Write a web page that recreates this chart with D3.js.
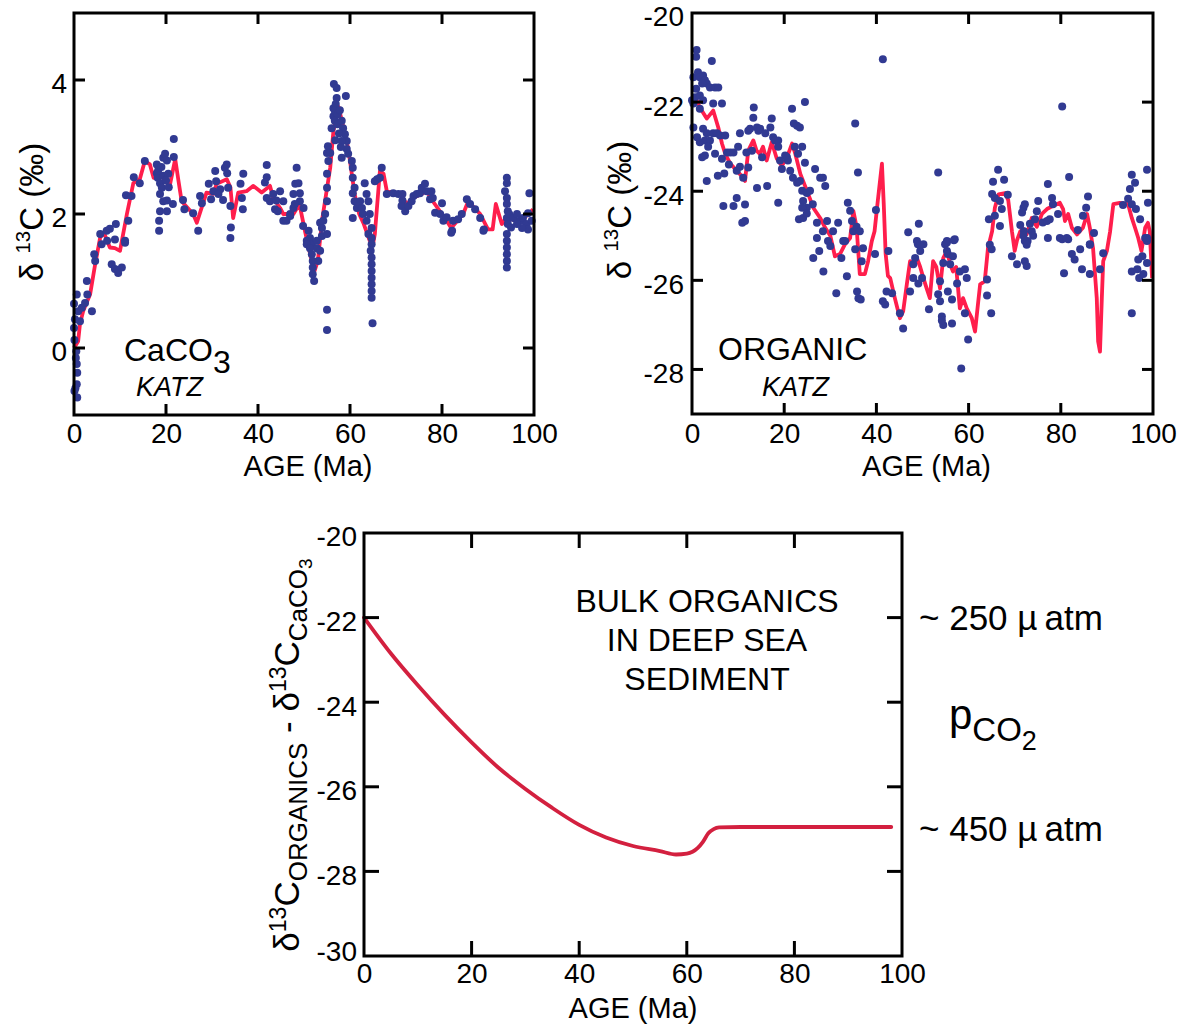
<!DOCTYPE html>
<html>
<head>
<meta charset="utf-8">
<script src="https://cdn.jsdelivr.net/npm/d3@7"></script>
<style>
  body { margin: 0; background: #fff; }
  svg { display: block; }
  text { font-family: "Liberation Sans", Arial, Helvetica, sans-serif; fill: #000; }
</style>
</head>
<body>
<svg id="fig" width="1178" height="1028"></svg>
<script>
// ---------------------------------------------------------------
// Axis ticks
// ---------------------------------------------------------------
const ageTicks = [0, 20, 40, 60, 80, 100];
const ageInnerTicks = [20, 40, 60, 80];
const caco3Ticks = [0, 2, 4];
const organicTicks = [-28, -26, -24, -22, -20];
const organicInnerTicks = [-28, -26, -24, -22];
const offsetTicks = [-30, -28, -26, -24, -22, -20];
const offsetInnerTicks = [-28, -26, -24, -22];

// ---------------------------------------------------------------
// d13C of carbonate (per mil) vs age (Ma): samples and smoothed trend
// ---------------------------------------------------------------
const caco3Samples = [
  [0,0.66],[0.2,0.43],[0,0.3],[0.1,0.12],[0.6,0.8],[0.9,0.55],[0.4,-0.15],[0.6,-0.24],[0.7,-0.37],
  [0.6,-0.54],[0.1,-0.64],[0.7,-0.74],[0.3,-0.6],[0.5,-0.05],[1.7,0.6],[1.3,0.4],[2.4,0.67],[2.9,0.8],
  [3.9,0.55],[2.8,1.0],[4.6,1.3],[4.4,1.4],[6.0,1.55],[5.7,1.7],[8.2,1.25],[8.9,1.18],[9.6,1.12],
  [10.4,1.2],[11.1,1.57],[8.9,1.62],[7.2,1.6],[7.1,1.75],[7.8,1.78],[9.1,1.85],[11.1,1.6],[11.8,1.9],
  [11.3,2.28],[12.5,2.27],[13.0,2.55],[14.3,2.46],[15.4,2.79],
  [18,2.74],[18,2.61],[18.2,2.54],[18.7,2.46],[19.4,2.84],[19.8,2.9],[20.2,2.8],[19.4,2.57],[19.1,2.39],
  [18.7,2.3],[18.5,1.9],[18.5,1.75],[18.7,2.04],[19.4,2.19],[20.2,2.04],[20.2,2.2],[20.5,2.6],[21.7,3.12],
  [21.7,2.85],[21.5,2.15],[20,2.5],[18.3,2.65],[19,2.7],[20.6,2.4],
  [23.7,2.21],[24,2.07],[25.9,2.01],[27,1.75],[27.4,2.27],[27.8,2.16],[29.3,2.45],[29.8,2.22],[30.3,2.34],
  [30.7,2.64],[30.9,2.49],[31.8,2.37],[31.4,2.3],[32.4,2.21],[32.8,2.69],[33.2,2.74],[33.3,2.61],[33.5,2.39],
  [34,2.12],[34.1,1.8],[34,1.64],[36.2,2.45],[36.8,2.6],[36.5,2.24],[36.7,2.07],[41.9,2.73],[41.9,2.55],
  [41.5,2.47],[41.9,2.24],[42.6,2.19],[43.3,2.3],[44,2.2],[43.7,2.07],[44.3,2.04],[44.8,2.34],[45.5,2.19],
  [45.5,1.9],[46.2,1.9],[47,1.97],[47.7,2.09],[48.1,2.45],[48.4,2.69],[48.8,2.46],[49.1,2.31],[49.1,2.19],
  [49.9,2.09],[48,2.15],[47,2.0],[47.7,2.3],
  [49.8,1.82],[51,1.75],[51.3,1.64],[50.6,1.6],[51.7,1.55],[52.8,1.49],[53.5,1.87],[53.9,1.79],[54.2,1.9],
  [54.6,2.0],[50.6,1.55],[51.3,1.49],[51.7,1.4],[51.9,1.3],[51.9,1.2],[51.9,1.1],[52.2,1.0],[53.1,1.3],
  [53.5,1.45],[52.8,1.6],[53.9,1.67],[55,1.7],[55,0.57],[55,0.27],
  [55,2.19],[55,2.39],[55,2.6],[55.3,2.79],[55,2.91],[55.2,3.01],[55.7,2.91],[56,3.28],[56.4,3.46],
  [56.4,3.58],[56.5,3.94],[57.1,3.88],[57.1,3.73],[56.9,3.64],[56.7,3.54],[57.3,3.49],[56.7,3.39],[57.3,3.34],
  [58.2,3.39],[58.5,3.28],[58.9,3.19],[59.3,3.09],[59.1,3.76],[58.2,3.09],[58.2,2.84],[59.3,2.97],[59.6,2.9],
  [56.8,3.1],[57.6,3.2],[57.8,3.55],[58,3.0],
  [60.4,2.79],[60.6,2.69],[60.6,2.54],[61,2.39],[60.6,2.31],[61,2.19],[61.5,2.09],[60.6,1.94],[62.2,2.19],
  [62.6,2.09],[62.8,2.0],[63.2,2.46],[63.6,2.3],[64,2.19],[64.3,2.0],[63.6,1.9],[64.7,1.79],[64,1.7],
  [64.7,1.64],[64.7,1.55],[64.5,1.45],[64.7,1.35],[64.7,1.25],[64.7,1.15],[64.7,1.05],[64.7,0.95],[64.7,0.85],
  [64.7,0.75],[64.9,0.37],
  [65.4,2.49],[65.9,2.52],[66.5,2.54],[66.9,2.69],[68,2.3],[69.4,2.31],[70.5,2.3],[71.4,2.3],[71.4,2.2],
  [71.2,2.12],[72,2.04],[72.7,2.12],[73.4,2.19],[73.8,2.27],[74.5,2.3],[75.2,2.31],[75.6,2.39],[76.3,2.45],
  [76.7,2.34],[77.7,2.34],[77.4,2.22],[78,2.24],[78.5,2.02],[80,2.16],[79.6,2.0],[80.3,1.9],[81,1.95],
  [82.2,1.75],[82.4,1.9],[83.5,1.92],[84.3,2.0],[85.4,2.22],[86.1,2.15],[87.2,2.07],[88.3,1.94],[89.1,1.77],
  [82,1.72],[89,1.75],
  [94.1,2.54],[94.1,2.46],[93.7,2.34],[94.1,2.24],[94.1,2.15],[94.3,2.04],[94.1,1.94],[94.3,1.85],[94.1,1.7],
  [94.1,1.6],[94.1,1.5],[94.1,1.4],[94.1,1.3],[94.1,1.2],[94.6,2.0],[95.5,1.94],[96.3,2.0],[97,1.9],
  [97.6,1.94],[98.4,1.85],[98.7,1.77],[97.4,1.79],[96.3,1.85],[99,2.31],[98.7,2.01],[95,1.8],[99.5,1.9]
];

const caco3Trend = [
  [0,0.0],[0.9,0.1],[1.3,0.36],[2,0.55],[3.5,0.8],[4.6,1.25],[5.7,1.65],[6.5,1.72],[7.8,1.5],[8.9,1.49],
  [10,1.45],[11.5,2.0],[12.9,2.46],[14.3,2.52],[15.4,2.79],[16.5,2.74],[17.3,2.54],[18.7,2.6],[20.1,2.47],
  [20.9,2.45],[22,2.82],[22.7,2.5],[23.4,2.19],[25.9,2.0],[26.7,1.87],[28.8,2.32],[30.3,2.3],[31,2.45],
  [33.2,2.52],[34,2.4],[34.6,1.94],[35.7,2.32],[37.5,2.34],[39,2.42],[40.8,2.32],[42.6,2.42],[43.3,2.24],
  [44.8,2.09],[45.5,2.0],[47.7,2.0],[49,2.15],[50.2,1.75],[51.5,1.35],[52.3,1.15],[53,1.3],[54,1.94],
  [55.7,2.69],[56.4,3.24],[57.5,3.6],[58.2,3.4],[59.3,3.09],[60,2.79],[61,2.3],[62,2.0],[63,1.85],
  [64.3,1.6],[65,1.55],[65.4,1.7],[66.5,2.64],[67.3,2.6],[68,2.34],[70.9,2.3],[72.3,2.15],[73.8,2.24],
  [76.7,2.34],[78,2.19],[81,1.9],[82,1.79],[84.6,2.0],[85.7,2.19],[88.3,2.0],[90,1.77],[91,1.77],
  [91.7,2.15],[93,1.85],[94,1.95],[96,1.9],[98,1.95],[99.8,2.07]
];

// ---------------------------------------------------------------
// d13C of bulk organic matter (per mil) vs age (Ma): samples and trend
// ---------------------------------------------------------------
const organicSamples = [
  [1,-20.83],[0.9,-20.98],[4.3,-21.08],[0.3,-21.44],[1.3,-21.33],[1.7,-21.44],[2.4,-21.4],[2.8,-21.51],
  [3.2,-21.58],[0.9,-21.7],[2.2,-21.58],[3.9,-21.67],[5,-21.67],[5.7,-21.67],[0.7,-21.89],[1.7,-21.85],
  [2.4,-21.96],[0.3,-22.03],[0,-21.96],[1.7,-22.15],[4.6,-22.03],[6.5,-22.03],[0.3,-22.57],[2.4,-22.6],
  [3.2,-22.7],[2.8,-22.86],[1.1,-22.79],[1.7,-22.9],[3.9,-22.86],[4.6,-22.7],[5.4,-22.7],[6.1,-22.75],
  [7.2,-22.75],[3.5,-23.0],[2.2,-23.24],[2.8,-23.2],[5,-23.16],[6.5,-23.27],[7.6,-23.13],[8.3,-23.13],
  [9,-23.13],[10,-23.0],[10.4,-22.7],[11.8,-23.13],[13,-23.09],[12.2,-22.64],[13.3,-22.35],[13.4,-22.12],
  [12.6,-22.6],[14.1,-22.57],[14.4,-22.64],[14.8,-22.6],[15.9,-22.7],[17,-22.57],[17.3,-22.37],[17.6,-22.79],
  [18,-22.86],[18.7,-22.86],[18.7,-23.0],[20.6,-23.24],[21.7,-22.15],[22.1,-22.48],[22.8,-22.53],[23.4,-22.57],
  [24.5,-22.0],[22.3,-23.0],[23.9,-23.0],[23,-23.16],[24.5,-23.36],[20.8,-23.31],[20.2,-23.2],[19.1,-23.31],
  [19.5,-23.5],[21.3,-23.54],[21.9,-23.7],[22.8,-23.81],[23.4,-23.77],[23.9,-23.99],[24.1,-24.22],[24.9,-24.04],
  [25.6,-23.99],[23.2,-24.63],[24.1,-24.6],[24.9,-24.37],[23.9,-24.37],[24.9,-24.5],[26.2,-24.29],[26.7,-23.5],
  [27.8,-23.7],[28.4,-23.7],[28.9,-23.88],[29.3,-24.67],[27.1,-24.71],[27.1,-25.05],[28.4,-24.9],[29.5,-25.12],
  [30.6,-24.9],[31.7,-24.71],[32.8,-25.12],[33.8,-24.26],[34.3,-24.44],[34.7,-24.67],[35,-24.9],[35.4,-22.48],
  [36,-23.58],[35.7,-24.8],[36.4,-24.9],[37.1,-25.28],[39.9,-24.42],[41.4,-21.04],
  [3.2,-23.77],[5.6,-23.65],[6.8,-24.33],[9,-24.33],[9.7,-24.15],[10.9,-24.71],[11.5,-24.67],[11.5,-24.3],
  [9.7,-23.54],[11.1,-23.7],[10.4,-23.45],[12.2,-23.47],[14.1,-23.93],[16.3,-23.88],[18.7,-24.26],[15.2,-23.24],
  [8,-23.4],[7,-23.6],
  [26.3,-25.5],[27.6,-25.34],[28.5,-25.8],[30,-25.23],[31.3,-26.29],[32.4,-25.5],[33.2,-25.12],
  [33.6,-25.91],[35.4,-25.3],[35.8,-26.25],[36.1,-26.4],[36.6,-26.43],[36.8,-25.57],[39.7,-25.41],[41.4,-26.47],
  [41.9,-26.54],[42.2,-26.25],
  [42.6,-25.34],[43.4,-26.29],[45.1,-26.74],[45.8,-27.08],[47.3,-26.25],[48,-25.95],[48,-25.64],[48.4,-25.5],
  [49,-25.19],[49.5,-25.34],[50.2,-25.19],[49.9,-25.95],[49.1,-26.07],[51.4,-26.65],[53.8,-26.02],[53.4,-26.31],
  [53.8,-26.47],[54.2,-26.81],[54.5,-27.0],[56.4,-26.97],[54.2,-26.9],[54.9,-25.19],[55.3,-25.12],[55.3,-25.34],
  [55.5,-25.41],[54.5,-25.61],[56,-25.64],[56.6,-25.46],[57,-25.08],[55.5,-26.25],[56.4,-26.43],[57.5,-26.07],
  [58.1,-25.8],[59.2,-25.75],[59.6,-25.95],[59.2,-26.74],[59.9,-27.33],[58.4,-27.98],[64,-25.98],[64,-26.34],
  [64.9,-26.74],[65,-25.3],[69.4,-25.46],[70.5,-25.64],[72.2,-25.57],[72.6,-25.68],[72.2,-25.12],[72.8,-25.12],
  [72,-24.9],[73.7,-24.9],[77.2,-25.05],[80.3,-25.08],[81.6,-25.08],[80.7,-25.84],[82.4,-25.41],[83,-25.53],
  [84.2,-25.3],[84.6,-25.75],[86.3,-25.19],[86.3,-25.86],[88.5,-25.75],[89.2,-25.39],[95.4,-26.74],[95.4,-25.8],
  [96.6,-25.75],[96.8,-25.53],[97.7,-25.46],[97,-25.95],[97.9,-25.86],[98.7,-25.61],[98.3,-25.05],[98.7,-25.12],
  [46.9,-24.92],[49.2,-24.73],[48.8,-25.12],[49.5,-25.2],[55.3,-25.15],[56.8,-25.1],[53.4,-23.58],[66.4,-23.52],
  [65.3,-23.79],[67.7,-23.74],[65.1,-24.06],[65.7,-24.15],[66.8,-24.22],[68.5,-24.08],[67.2,-24.4],[65.7,-24.55],
  [64.4,-24.63],[66.8,-24.78],[64.6,-25.2],[71.6,-24.48],[71.9,-24.37],[72.2,-24.29],[71.2,-24.76],[71.9,-25.0],
  [73.3,-24.73],[74.0,-25.0],[72.6,-25.2],[74.4,-24.63],[75.1,-24.22],[74.8,-24.45],[76.1,-24.7],[77,-24.67],
  [77.2,-23.84],[78.1,-24.15],[78.3,-24.29],[77.6,-24.63],[79.4,-24.51],[79.8,-25.05],[81.3,-25.05],[81.8,-23.68],
  [80.3,-22.1],[83.7,-24.87],[84.8,-24.55],[85.5,-24.37],[85.9,-24.12],[86.3,-25.2],[87.2,-24.94],[93.5,-24.31],
  [94.6,-24.17],[95,-23.95],[95.4,-23.63],[96.1,-23.81],[95.4,-24.29],[96.3,-24.4],[97.2,-24.63],[98.7,-23.52],
  [98.9,-24.26],[98.7,-25.05]
];

const organicTrend = [
  [1.0,-21.95],[1.7,-22.12],[3.2,-22.37],[4.6,-22.19],[5.7,-22.57],[6.5,-22.93],[7.2,-23.16],[8.3,-23.38],
  [9.7,-23.54],[10.7,-23.65],[11.5,-23.77],[12.2,-23.09],[13.3,-22.86],[14,-23.09],[14.7,-23.16],[15.4,-23.0],
  [16.2,-23.31],[17.3,-22.9],[18.4,-23.27],[19.5,-23.43],[20.6,-23.24],[21.7,-22.93],[22.4,-23.16],[23.5,-23.61],
  [25.2,-24.06],[26.3,-24.37],[27.8,-24.6],[28.9,-24.82],[30,-25.0],[31,-25.46],[32.1,-25.41],[33.2,-25.19],
  [34.3,-25.05],[35,-24.44],[35.7,-24.8],[36.4,-25.86],[37.5,-25.86],[38.2,-25.57],[39,-25.12],[39.6,-24.9],
  [40.3,-24.22],[41.2,-23.38],[41.6,-24.3],[42,-25.4],[42.5,-25.9],[43,-25.95],[44,-26.4],[45.1,-26.85],
  [45.8,-26.7],[46.6,-26.09],[47.3,-25.57],[48,-25.64],[48.8,-25.5],[49.5,-25.7],[50.2,-25.95],[50.9,-26.18],
  [51.6,-26.4],[52.3,-25.57],[53,-25.7],[53.8,-26.18],[54.5,-25.5],[55.3,-25.34],[56,-25.64],[56.6,-25.8],
  [57.3,-25.7],[58.1,-26.63],[58.8,-26.4],[59.6,-26.63],[60.7,-26.85],[61.4,-27.15],[62.1,-26.47],[62.5,-26.09],
  [63.5,-26.02],[64.2,-25.28],[65.1,-24.9],[65.7,-24.37],[66.5,-24.07],[67.9,-24.04],[68.6,-24.2],[69.4,-24.9],
  [70,-25.34],[70.5,-25.1],[71.2,-24.9],[71.9,-24.85],[72.6,-24.97],[73.7,-24.6],[74.8,-24.8],[75.9,-24.51],
  [77,-24.4],[78.3,-24.33],[79.8,-24.26],[80.5,-24.4],[80.9,-24.67],[81.6,-24.51],[82.4,-24.82],[83.5,-24.97],
  [84.8,-24.82],[85.7,-24.51],[86.3,-24.82],[87,-25.28],[87.8,-26.4],[88.1,-27.37],[88.5,-27.6],[88.9,-26.4],
  [89.2,-25.57],[90,-25.34],[90.7,-24.9],[91.4,-24.29],[92.8,-24.26],[94.6,-24.29],[95.4,-24.6],[96.1,-24.82],
  [96.8,-25.05],[97.5,-25.34],[98.3,-24.82],[98.9,-24.71],[99.3,-24.9],[99.8,-25.95]
];

// ---------------------------------------------------------------
// Organic - carbonate fractionation of bulk deep-sea organics
// ---------------------------------------------------------------
const offsetCurve = [
  [0,-22.0],[5,-22.85],[10,-23.6],[15,-24.3],[20,-24.95],[25,-25.55],[30,-26.05],[35,-26.5],[40,-26.9],
  [45,-27.2],[50,-27.4],[55,-27.52],[58,-27.6],[60,-27.58],[62,-27.45],[63,-27.3],[64,-27.1],[65,-27.0],
  [66,-26.96],[70,-26.95],[98,-26.95]
];

const pco2Marks = [
  { value: -22, label: "250" },
  { value: -27, label: "450" }
];

// ---------------------------------------------------------------
// Drawing
// ---------------------------------------------------------------
const svg = d3.select("#fig");
const DOT = "#313a92";
const TREND = "#ff1e4c";
const MODEL = "#d3203f";

function frame(g, x, y, xMarks, yMarks, tickLen, stroke) {
  const [xl, xr] = x.range();
  const [yb, yt] = y.range();
  g.append("rect")
    .attr("x", xl).attr("y", yt)
    .attr("width", xr - xl).attr("height", yb - yt)
    .attr("fill", "none").attr("stroke", "#000").attr("stroke-width", stroke);
  const tg = g.append("g").attr("stroke", "#000").attr("stroke-width", stroke);
  tg.selectAll(null).data(xMarks).join("line")
    .attr("x1", d => x(d)).attr("x2", d => x(d)).attr("y1", yb).attr("y2", yb - tickLen);
  tg.selectAll(null).data(xMarks).join("line")
    .attr("x1", d => x(d)).attr("x2", d => x(d)).attr("y1", yt).attr("y2", yt + tickLen);
  tg.selectAll(null).data(yMarks).join("line")
    .attr("x1", xl).attr("x2", xl + tickLen).attr("y1", d => y(d)).attr("y2", d => y(d));
  tg.selectAll(null).data(yMarks).join("line")
    .attr("x1", xr).attr("x2", xr - tickLen).attr("y1", d => y(d)).attr("y2", d => y(d));
}

function tickLabels(g, x, y, xVals, yVals, size, xPad, yPad) {
  const [yb] = y.range();
  const [xl] = x.range();
  const fmt = d => String(d);
  const ax = g.append("g").attr("transform", `translate(0,${yb})`)
    .call(d3.axisBottom(x).tickValues(xVals).tickSize(0).tickPadding(xPad).tickFormat(fmt));
  const ay = g.append("g").attr("transform", `translate(${xl},0)`)
    .call(d3.axisLeft(y).tickValues(yVals).tickSize(0).tickPadding(yPad).tickFormat(fmt));
  [ax, ay].forEach(a => {
    a.select(".domain").remove();
    a.attr("font-family", null).attr("font-size", size);
    a.selectAll("text").attr("fill", "#000");
  });
  ay.selectAll("text").attr("dy", "0.46em");
  return ay;
}

// δ13C label with superscript, rotated on the left of a panel
function deltaLabel(g, cx, cy, size) {
  const t = g.append("text")
    .attr("transform", `translate(${cx},${cy}) rotate(-90)`)
    .attr("text-anchor", "middle")
    .attr("font-size", size);
  t.append("tspan").text("δ ");
  t.append("tspan").attr("dy", -size * 0.38).attr("font-size", size * 0.62).text("13");
  t.append("tspan").attr("dy", size * 0.38).text("C (‰)");
}

// ---------- panel 1: carbonate ----------
{
  const x = d3.scaleLinear().domain([0, 100]).range([74, 534]);
  const y = d3.scaleLinear().domain([-1, 5]).range([415, 13]);
  const g = svg.append("g");
  const line = d3.line().x(d => x(d[0])).y(d => y(d[1]));
  g.append("path").datum(caco3Trend).attr("d", line)
    .attr("fill", "none").attr("stroke", TREND).attr("stroke-width", 3.8).attr("stroke-linejoin", "round");
  g.selectAll(null).data(caco3Samples).join("circle")
    .attr("cx", d => x(d[0])).attr("cy", d => y(d[1])).attr("r", 4).attr("fill", DOT);
  frame(g, x, y, ageInnerTicks, caco3Ticks, 11, 3);
  tickLabels(g, x, y, ageTicks, caco3Ticks, 28, 8, 7);
  g.append("text").attr("x", x(50) + 4).attr("y", 476).attr("text-anchor", "middle")
    .attr("font-size", 29).text("AGE (Ma)");
  deltaLabel(g, 43, 212, 33);
  const t = g.append("text").attr("x", 124).attr("y", 361).attr("font-size", 32);
  t.append("tspan").text("CaCO");
  t.append("tspan").attr("dy", 12).text("3");
  g.append("text").attr("x", 136).attr("y", 396).attr("font-size", 27)
    .attr("font-style", "italic").text("KATZ");
}

// ---------- panel 2: organic ----------
{
  const x = d3.scaleLinear().domain([0, 100]).range([692, 1153]);
  const y = d3.scaleLinear().domain([-29, -20]).range([414, 13]);
  const g = svg.append("g");
  const line = d3.line().x(d => x(d[0])).y(d => y(d[1]));
  g.append("path").datum(organicTrend).attr("d", line)
    .attr("fill", "none").attr("stroke", TREND).attr("stroke-width", 3.8).attr("stroke-linejoin", "round");
  g.selectAll(null).data(organicSamples).join("circle")
    .attr("cx", d => x(d[0])).attr("cy", d => y(d[1])).attr("r", 4).attr("fill", DOT);
  frame(g, x, y, ageInnerTicks, organicInnerTicks, 11, 3);
  tickLabels(g, x, y, ageTicks, organicTicks, 28, 9, 8);
  g.append("text").attr("x", x(50) + 4).attr("y", 476).attr("text-anchor", "middle")
    .attr("font-size", 29).text("AGE (Ma)");
  deltaLabel(g, 631, 210, 33);
  g.append("text").attr("x", 718).attr("y", 360).attr("font-size", 32).text("ORGANIC");
  g.append("text").attr("x", 762).attr("y", 396).attr("font-size", 27)
    .attr("font-style", "italic").text("KATZ");
}

// ---------- panel 3: fractionation model ----------
{
  const x = d3.scaleLinear().domain([0, 100]).range([364, 902]);
  const y = d3.scaleLinear().domain([-30, -20]).range([956, 533]);
  const g = svg.append("g");
  const line = d3.line().x(d => x(d[0])).y(d => y(d[1])).curve(d3.curveMonotoneX);
  g.append("path").datum(offsetCurve).attr("d", line)
    .attr("fill", "none").attr("stroke", MODEL).attr("stroke-width", 3.8).attr("stroke-linecap", "round");
  frame(g, x, y, ageInnerTicks, offsetInnerTicks, 15, 3);
  const ay = tickLabels(g, x, y, ageTicks, offsetTicks, 28, 7, 7);
  // lowest value label sits just above the corner, clear of the "0" age label
  ay.selectAll("text").filter(d => d === y.domain()[0]).attr("dy", "0.16em");
  g.append("text").attr("x", x(50)).attr("y", 1018).attr("text-anchor", "middle")
    .attr("font-size", 29).text("AGE (Ma)");

  // rotated y title: δ13C(ORGANICS) - δ13C(CaCO3)
  const t = g.append("text")
    .attr("transform", `translate(299,755) rotate(-90)`)
    .attr("text-anchor", "middle").attr("font-size", 35);
  t.append("tspan").text("δ");
  t.append("tspan").attr("dy", -13).attr("font-size", 23).text("13");
  t.append("tspan").attr("dy", 13).text("C");
  t.append("tspan").attr("dy", 8).attr("font-size", 26).text("ORGANICS");
  t.append("tspan").attr("dy", -8).text(" - δ");
  t.append("tspan").attr("dy", -13).attr("font-size", 23).text("13");
  t.append("tspan").attr("dy", 13).text("C");
  t.append("tspan").attr("dy", 8).attr("font-size", 26).text("CaCO");
  t.append("tspan").attr("dy", 5).attr("font-size", 19).text("3");

  ["BULK ORGANICS", "IN DEEP SEA", "SEDIMENT"].forEach((s, i) => {
    g.append("text").attr("x", 707).attr("y", 612 + i * 39).attr("text-anchor", "middle")
      .attr("font-size", 32).text(s);
  });

  pco2Marks.forEach(m => {
    const tt = g.append("text").attr("x", 919).attr("y", y(m.value) + 12).attr("font-size", 35);
    tt.append("tspan").text("~ " + m.label + " µ");
    tt.append("tspan").attr("dx", 7).text("atm");
  });

  const p = g.append("text").attr("x", 949).attr("y", 729).attr("font-size", 42);
  p.append("tspan").text("p");
  p.append("tspan").attr("dy", 12).attr("font-size", 33).text("CO");
  p.append("tspan").attr("dy", 9).attr("font-size", 27).text("2");
}
</script>
</body>
</html>
